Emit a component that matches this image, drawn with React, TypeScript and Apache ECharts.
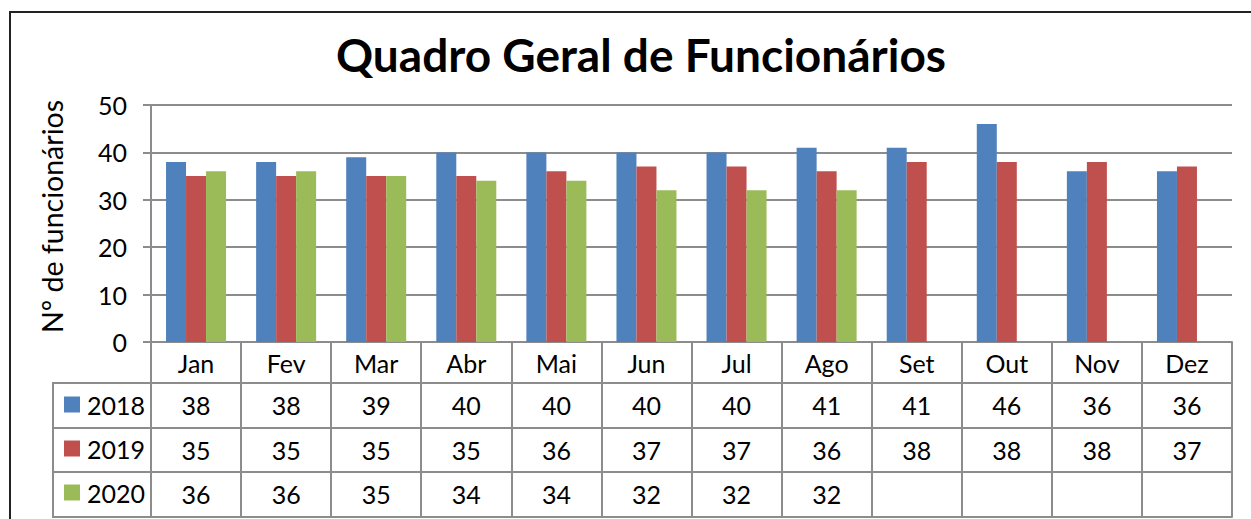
import React, { useEffect, useRef } from 'react';
import * as echarts from 'echarts';

const categories = ['Jan', 'Fev', 'Mar', 'Abr', 'Mai', 'Jun', 'Jul', 'Ago', 'Set', 'Out', 'Nov', 'Dez'];
const seriesNames = ['2018', '2019', '2020'];
const values2018 = [38, 38, 39, 40, 40, 40, 40, 41, 41, 46, 36, 36];
const values2019 = [35, 35, 35, 35, 36, 37, 37, 36, 38, 38, 38, 37];
const values2020 = [36, 36, 35, 34, 34, 32, 32, 32, null, null, null, null];
const yTicks = { min: 0, max: 50, interval: 10 };
const titleText = 'Quadro Geral de Funcionários';
const yAxisTitle = 'Nº de funcionários';

const FONT = 'Lato, "Open Sans", sans-serif';
const GRAY = '#8c8c8c';
const COLORS = ['#4F81BD', '#C0504D', '#9BBB59'];
const FS = 25;

const rowAxis = (vals: (number | null)[], offset: number) => ({
  type: 'category',
  gridIndex: 0,
  position: 'bottom',
  offset,
  data: vals.map((v) => (v == null ? '' : String(v))),
  axisLine: { show: true, lineStyle: { color: GRAY, width: 2 } },
  axisTick: { show: false },
  axisLabel: { show: true, interval: 0, fontSize: FS, color: '#000', margin: 9, fontFamily: FONT },
  splitLine: { show: false },
});

export default function App() {
  const ref = useRef<HTMLDivElement>(null);
  useEffect(() => {
    const chart = echarts.init(ref.current!, null, { renderer: 'svg' });
    const option: any = {
      animation: false,
      backgroundColor: '#fff',
      title: {
        text: titleText,
        left: 636,
        top: 26,
        textAlign: 'center',
        textStyle: { fontFamily: FONT, fontSize: 46, fontWeight: 'bold', color: '#000' },
      },
      legend: {
        data: seriesNames,
        orient: 'vertical',
        left: 64,
        top: 392,
        padding: 0,
        itemWidth: 16,
        itemHeight: 16,
        itemGap: 19,
        icon: 'rect',
        textStyle: { fontSize: FS, color: '#000', fontFamily: FONT, padding: [0, 0, 0, 2] },
      },
      grid: { left: 151, right: 19, top: 105, bottom: 177, containLabel: false },
      xAxis: [
        {
          type: 'category',
          data: categories,
          position: 'bottom',
          axisLine: { show: true, lineStyle: { color: GRAY, width: 2 } },
          axisTick: { show: true, length: 175, lineStyle: { color: GRAY, width: 2 } },
          axisLabel: { interval: 0, fontSize: FS, color: '#000', margin: 8, fontFamily: FONT },
        },
        rowAxis(values2018, 41),
        rowAxis(values2019, 86),
        rowAxis(values2020, 130),
        {
          type: 'category',
          position: 'bottom',
          offset: 175,
          data: categories.map(() => ''),
          axisLine: { show: true, lineStyle: { color: GRAY, width: 2 } },
          axisTick: { show: false },
          axisLabel: { show: false },
        },
      ],
      yAxis: {
        type: 'value',
        min: yTicks.min,
        max: yTicks.max,
        interval: yTicks.interval,
        name: yAxisTitle,
        nameLocation: 'middle',
        nameRotate: 90,
        nameGap: 85,
        nameTextStyle: { fontSize: 28.5, color: '#000', fontFamily: FONT, padding: [0, 0, 0, 14] },
        axisLine: { show: true, lineStyle: { color: GRAY, width: 2 } },
        axisTick: { show: true, length: 8, lineStyle: { color: GRAY, width: 2 } },
        axisLabel: { fontSize: FS, color: '#000', margin: 24, fontFamily: FONT },
        splitLine: { show: true, lineStyle: { color: GRAY, width: 2 } },
      },
      series: [
        { name: seriesNames[0], type: 'bar', data: values2018, itemStyle: { color: COLORS[0] }, barWidth: 20, barGap: '0%' },
        { name: seriesNames[1], type: 'bar', data: values2019, itemStyle: { color: COLORS[1] }, barWidth: 20, barGap: '0%' },
        { name: seriesNames[2], type: 'bar', data: values2020, itemStyle: { color: COLORS[2] }, barWidth: 20, barGap: '0%' },
      ],
      graphic: [
        {
          type: 'rect',
          z: -1,
          shape: { x: 10, y: 12, width: 1400, height: 700 },
          style: { fill: 'none', stroke: '#222', lineWidth: 2 },
        },
        {
          type: 'rect',
          shape: { x: 53, y: 383, width: 98, height: 134 },
          style: { fill: 'none', stroke: GRAY, lineWidth: 2 },
        },
        { type: 'line', shape: { x1: 53, y1: 428, x2: 151, y2: 428 }, style: { stroke: GRAY, lineWidth: 2 } },
        { type: 'line', shape: { x1: 53, y1: 472, x2: 151, y2: 472 }, style: { stroke: GRAY, lineWidth: 2 } },
      ],
    };
    chart.setOption(option);
    return () => chart.dispose();
  }, []);
  return (
    <div
      ref={ref}
      style={{ position: 'absolute', left: 0, top: 0, width: 1251, height: 519, background: '#fff' }}
    />
  );
}
